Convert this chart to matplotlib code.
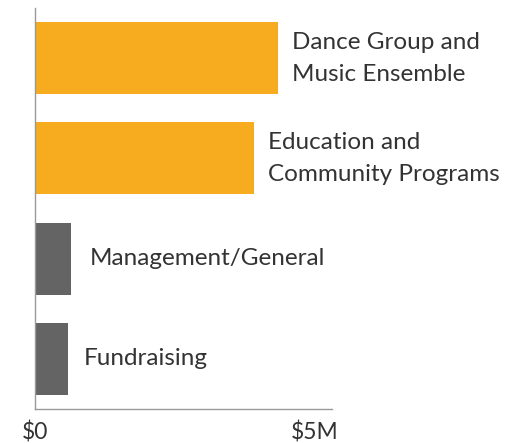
import matplotlib
matplotlib.use("Agg")
import matplotlib.pyplot as plt

categories = ["Dance Group and\nMusic Ensemble", "Education and\nCommunity Programs",
              "Management/General", "Fundraising"]
values = [4.34, 3.91, 0.64, 0.59]  # $M
colors = ["#F7AB1E", "#F7AB1E", "#646464", "#646464"]
label_offsets = [14, 14, 19, 16]
tick_vals = [0, 5]
tick_labels = ["$0", "$5M"]

plt.rcParams['font.family'] = ['Lato', 'DejaVu Sans']

fig = plt.figure(figsize=(5.17, 4.43), dpi=100)
W, H = 517, 443
ax = fig.add_axes([35 / W, 34 / H, (332 - 35) / W, (409 - 8) / H])

ypos = list(range(len(categories)))
ax.barh(ypos, values, height=0.72, color=colors)
for y, v, lab, off in zip(ypos, values, categories, label_offsets):
    ax.annotate(lab, xy=(v, y), xytext=(off, 0), textcoords="offset pixels",
                ha="left", va="center", fontsize=17.5, color="#333333",
                linespacing=1.65)

ax.set_xlim(0, 5.3)
ax.set_ylim(3.5, -0.5)
ax.set_yticks([])
ax.set_xticks(tick_vals)
ax.set_xticklabels(tick_labels, fontsize=16.5, color="#333333")
ax.tick_params(axis="x", length=0, pad=9)
for s in ["top", "right"]:
    ax.spines[s].set_visible(False)
for s in ["left", "bottom"]:
    ax.spines[s].set_color("#999999")
    ax.spines[s].set_linewidth(1)

fig.savefig("out.png", dpi=100)
